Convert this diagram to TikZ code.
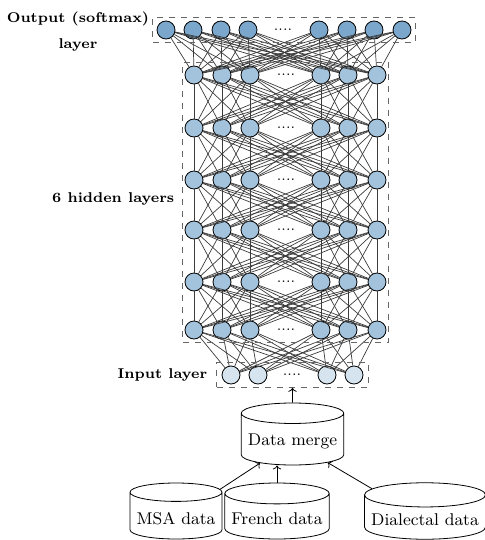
\documentclass[tikz,border=0pt]{standalone}
\usepackage{tikz}
\usetikzlibrary{positioning, arrows.meta, calc, shapes.geometric, fit}
\definecolor{outblue}{RGB}{122,167,203}
\definecolor{hidblue}{RGB}{163,194,220}
\definecolor{inblue}{RGB}{214,228,240}
\definecolor{wire}{RGB}{60,60,60}

\begin{document}
\begin{tikzpicture}[x=0.5pt, y=-0.5pt, font=\fontsize{8.5}{10}\selectfont,
          neuron/.style={circle, draw, line width=0.4pt, minimum size=9pt, inner sep=0pt},
          link/.style={wire, line width=0.35pt},
          layerbox/.style={draw, dashed, gray!80!black, inner sep=1.5pt},
          db/.style={cylinder, draw, shape border rotate=90, aspect=0.2, align=center, anchor=shape center},
          tag/.style={font=\fontsize{7.1}{13}\selectfont\bfseries, align=center},
          feed/.style={-{To[length=2pt]}, line width=0.4pt}]
        \useasboundingbox (0,0) rectangle (485,540);
        % neurons
        \foreach \x [count=\i] in {166,193,221,248,319,347,374,402}
          \node[neuron, fill=outblue] (o\i) at (\x,30) {};
        \foreach \y [count=\r] in {75,128,180,230,282,330}
          \foreach \x [count=\i] in {194,222,250,321,348,377}
            \node[neuron, fill=hidblue] (h\r\i) at (\x,\y) {};
        \foreach \x [count=\i] in {231,258,327,354}
          \node[neuron, fill=inblue] (i\i) at (\x,375) {};
        \node[font=\scriptsize] (od) at (283,30) {....};
        \foreach \y [count=\r] in {75,128,180,230,282,330}
          \node[font=\scriptsize] (hd\r) at (286,\y) {....};
        \node[font=\scriptsize] (id) at (292,375) {....};
        % connections
        \foreach \a in {1,...,8} \foreach \b in {1,...,6} \draw[link] (o\a) -- (h1\b);
        \foreach \r [evaluate=\r as \s using int(\r+1)] in {1,...,5}
          \foreach \a in {1,...,6} \foreach \b in {1,...,6} \draw[link] (h\r\a) -- (h\s\b);
        \foreach \a in {1,...,6} \foreach \b in {1,...,4} \draw[link] (h6\a) -- (i\b);
        % layer boxes
        \node[layerbox, inner xsep=2pt, fit=(o1)(o8)] (outbox) {};
        \node[layerbox, inner xsep=1pt, fit=(h11)(h66)] (hidbox) {};
        \node[layerbox, inner xsep=2.5pt, fit=(i1)(i4)] (inbox) {};
        \node[tag, left=-2pt of outbox, yshift=-1pt] {Output (softmax)\\layer};
        \node[tag, left=0.5pt of hidbox, yshift=2pt] {6 hidden layers};
        \node[tag, left=1pt of inbox] {Input layer};
        % data
        \node[db, minimum width=50.5pt, minimum height=31pt] (merge) at (292.5,434) {Data merge};
        \node[db, minimum width=45.5pt, minimum height=28pt] (msa) at (176,511) {MSA data};
        \node[db, minimum width=45pt, minimum height=28pt] (french) at (277,511) {French data};
        \node[db, minimum width=57.5pt, minimum height=28pt] (dial) at (425,511) {Dialectal data};
        \draw[feed] (merge.north) -- (inbox.south);
        \draw[feed] (msa) -- (merge);
        \draw[feed] (french.north) -- (french.north |- merge.south);
        \draw[feed] (dial) -- (merge);
      \end{tikzpicture}
\end{document}
